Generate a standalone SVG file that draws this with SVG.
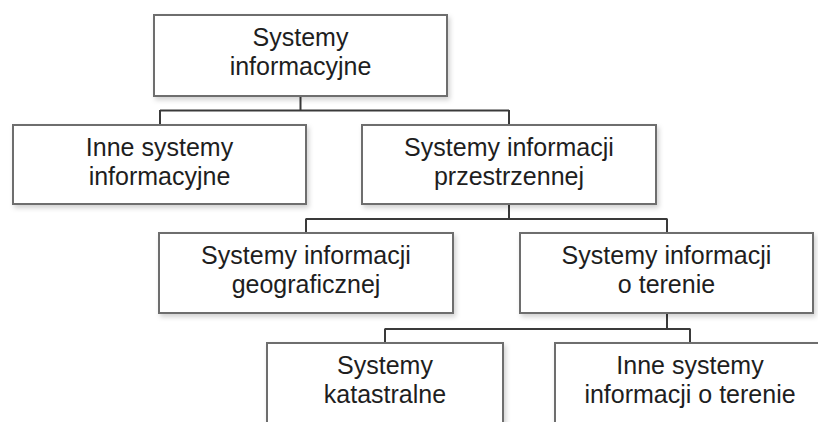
<svg xmlns="http://www.w3.org/2000/svg" width="818" height="422" viewBox="0 0 818 422">
  <defs>
    <filter id="sh" x="-5%" y="-10%" width="115%" height="130%">
      <feDropShadow dx="2" dy="3" stdDeviation="2.5" flood-color="#000" flood-opacity="0.18"/>
    </filter>
  </defs>
  <style>
    .box { fill: #ffffff; stroke: #6e6e6e; stroke-width: 2; filter: url(#sh); }
    .lbl { font-family: "Liberation Sans", Arial, sans-serif; font-size: 25px; fill: #1e1e1e; text-anchor: middle; }
    .con { fill: none; stroke: #3a3a3a; stroke-width: 2; }
  </style>
  <rect width="818" height="422" fill="#ffffff"/>

  <g id="connectors">
    <path class="con" d="M300.5 96 V110.5 M160 110.5 H509 M160 110 V125 M509 110 V125"/>
    <path class="con" d="M509 204 V219 M306 219 H667 M306 218.5 V233 M667 218.5 V233"/>
    <path class="con" d="M667 313 V329 M385 329 H690 M385 328.5 V343 M690 328.5 V343"/>
  </g>

  <g id="n-systemy-informacyjne">
    <rect class="box" x="154" y="15" width="293" height="81"/>
    <text class="lbl" x="300.5" y="45.5">Systemy</text>
    <text class="lbl" x="300.5" y="74.5">informacyjne</text>
  </g>

  <g id="n-inne-systemy-informacyjne">
    <rect class="box" x="13" y="125" width="293" height="79"/>
    <text class="lbl" x="159.5" y="155.5">Inne systemy</text>
    <text class="lbl" x="159.5" y="184.5">informacyjne</text>
  </g>

  <g id="n-systemy-informacji-przestrzennej">
    <rect class="box" x="362" y="125" width="294" height="79"/>
    <text class="lbl" x="509" y="155.5">Systemy informacji</text>
    <text class="lbl" x="509" y="184.5">przestrzennej</text>
  </g>

  <g id="n-systemy-informacji-geograficznej">
    <rect class="box" x="159" y="233" width="294" height="80"/>
    <text class="lbl" x="306" y="263.5">Systemy informacji</text>
    <text class="lbl" x="306" y="292.5">geograficznej</text>
  </g>

  <g id="n-systemy-informacji-o-terenie">
    <rect class="box" x="520" y="233" width="293" height="80"/>
    <text class="lbl" x="666.5" y="263.5">Systemy informacji</text>
    <text class="lbl" x="666.5" y="292.5">o terenie</text>
  </g>

  <g id="n-systemy-katastralne">
    <rect class="box" x="267" y="343" width="236" height="100"/>
    <text class="lbl" x="385" y="373.5">Systemy</text>
    <text class="lbl" x="385" y="402.5">katastralne</text>
  </g>

  <g id="n-inne-systemy-informacji-o-terenie">
    <rect class="box" x="555" y="343" width="272" height="100"/>
    <text class="lbl" x="690" y="373.5">Inne systemy</text>
    <text class="lbl" x="690" y="402.5">informacji o terenie</text>
  </g>
</svg>
